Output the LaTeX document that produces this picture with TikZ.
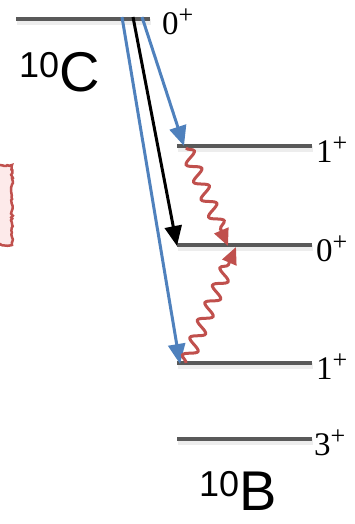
\documentclass[tikz,border=0pt]{standalone}
\usepackage{fontspec}
\setmainfont{Liberation Serif}
\newfontfamily\arialf{Liberation Sans}
\usetikzlibrary{arrows.meta,decorations.pathmorphing}
\definecolor{lvgray}{HTML}{595959}
\definecolor{tblue}{HTML}{4F81BD}
\definecolor{tred}{HTML}{C0504D}
\definecolor{tpink}{HTML}{FDEAEA}
\newcommand{\jp}[1]{#1\raisebox{11pt}{\fontsize{26}{26}\selectfont +}}
\tikzset{
  level/.style={draw=lvgray, line width=4pt},
  lshadow/.style={draw=black!7, line width=6pt},
  jlab/.style={anchor=west, inner sep=0pt, font=\fontsize{33}{33}\selectfont},
  betablue/.style={draw=tblue, line width=3pt, -{Triangle[length=20pt,width=17pt]}},
  betablack/.style={draw=black, line width=3pt, -{Triangle[length=20pt,width=17pt]}},
  gam/.style={draw=tred, line width=3pt, -{Triangle[length=17pt,width=15pt]},
    decorate, decoration={snake, amplitude=6.5pt, segment length=19pt, post length=17pt}},
}
\begin{document}
\begin{tikzpicture}[x=1pt,y=-1pt]
\useasboundingbox (0,0) rectangle (354,524);
% red box at left edge
\draw[draw=tred, fill=tpink, line width=2.5pt, decorate, decoration={random steps, segment length=2pt, amplitude=1pt}] (-10,165) rectangle (12,245);
% 10C level
\coordinate (cA) at (16,19);
\coordinate (cB) at (150,19);
\draw[lshadow] ([shift={(1,3)}]cA) -- ([shift={(1,3)}]cB);
\draw[level] (cA) -- (cB);
\node[jlab] (c0) at (162,22) {\jp{0}};
\node[anchor=north west, inner sep=0pt] (cname) at (19,52) {\arialf\raisebox{14.5pt}{\fontsize{36}{36}\selectfont 10}\fontsize{56}{56}\selectfont C};
% 10B levels
\coordinate (b1L) at (177,146); \coordinate (b1R) at (312,146);
\coordinate (b0L) at (177,245); \coordinate (b0R) at (312,245);
\coordinate (b2L) at (177,363); \coordinate (b2R) at (312,363);
\coordinate (b3L) at (177,439); \coordinate (b3R) at (312,439);
\foreach \a/\b in {b1L/b1R,b0L/b0R,b2L/b2R,b3L/b3R}{
  \draw[lshadow] ([shift={(1,3)}]\a) -- ([shift={(1,3)}]\b);
  \draw[level] (\a) -- (\b);
}
\node[jlab] (l1) at (316,150) {\jp{1}};
\node[jlab] (l0) at (316,249) {\jp{0}};
\node[jlab] (l2) at (316,367) {\jp{1}};
\node[jlab] (l3) at (314,443) {\jp{3}};
\node[anchor=north west, inner sep=0pt] (bname) at (199,471) {\arialf\raisebox{14.5pt}{\fontsize{36}{36}\selectfont 10}\fontsize{56}{56}\selectfont B};
% beta transitions
\coordinate (s1) at (122,17); \coordinate (t1) at (180,364);
\coordinate (s2) at (133,17); \coordinate (t2) at (177,246);
\coordinate (s3) at (142,17); \coordinate (t3) at (184,146);
\draw[betablue] (s1) -- (t1);
\draw[betablack] (s2) -- (t2);
\draw[betablue] (s3) -- (t3);
% gamma transitions
\coordinate (g1s) at (186,148); \coordinate (g1t) at (228,246);
\coordinate (g2s) at (186,363); \coordinate (g2t) at (236,247);
\draw[gam] (g1s) -- (g1t);
\draw[gam] (g2s) -- (g2t);
\end{tikzpicture}
\end{document}
